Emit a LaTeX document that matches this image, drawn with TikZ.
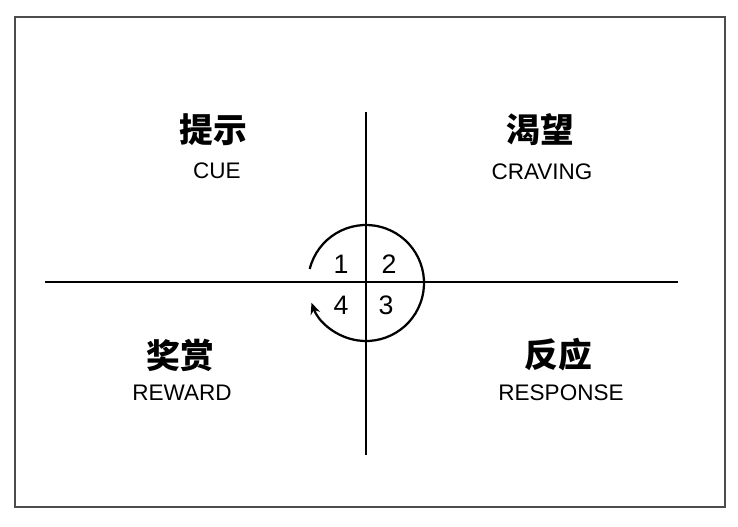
\documentclass[tikz,border=0pt]{standalone}
\usepackage{fontspec}
\newfontfamily\cjk{Noto Sans CJK SC}
\newfontfamily\hand{Liberation Sans}
\usetikzlibrary{arrows.meta}
\begin{document}
\begin{tikzpicture}[x=0.025cm,y=-0.025cm,
  axis/.style={line width=1.6pt},
  zh/.style={font=\cjk\bfseries\fontsize{24}{24}\selectfont},
  en/.style={font=\hand\fontsize{16}{16}\selectfont},
  num/.style={font=\hand\fontsize{19}{19}\selectfont}]
\useasboundingbox (0,0) rectangle (738,527);
% frame
\draw[line width=2pt, black!70] (15,17) rectangle (725,507);
% axes
\coordinate (west) at (45,282);
\coordinate (east) at (678,282);
\coordinate (north) at (366,112);
\coordinate (south) at (366,455);
\draw[axis] (west) -- (east);
\draw[axis] (north) -- (south);
% loop
\coordinate (hub) at (366,283);
\draw[axis, -{Stealth[length=8pt,width=7pt]}] ([shift={(-166:58)}]hub) arc[start angle=-166, end angle=160, radius=58];
\node[num] (one) at (341,264) {1};
\node[num] (two) at (389,264) {2};
\node[num] (three) at (386,305) {3};
\node[num] (four) at (341,305) {4};
% quadrants
\node[zh] (cue) at (213,130) {提示};
\node[en] (cueen) at (217,171) {CUE};
\node[zh] (crave) at (540,130) {渴望};
\node[en] (craveen) at (542,172) {CRAVING};
\node[zh] (reward) at (180,355) {奖赏};
\node[en] (rewarden) at (182,393) {REWARD};
\node[zh] (resp) at (558,355) {反应};
\node[en] (respen) at (561,393) {RESPONSE};
\end{tikzpicture}
\end{document}
